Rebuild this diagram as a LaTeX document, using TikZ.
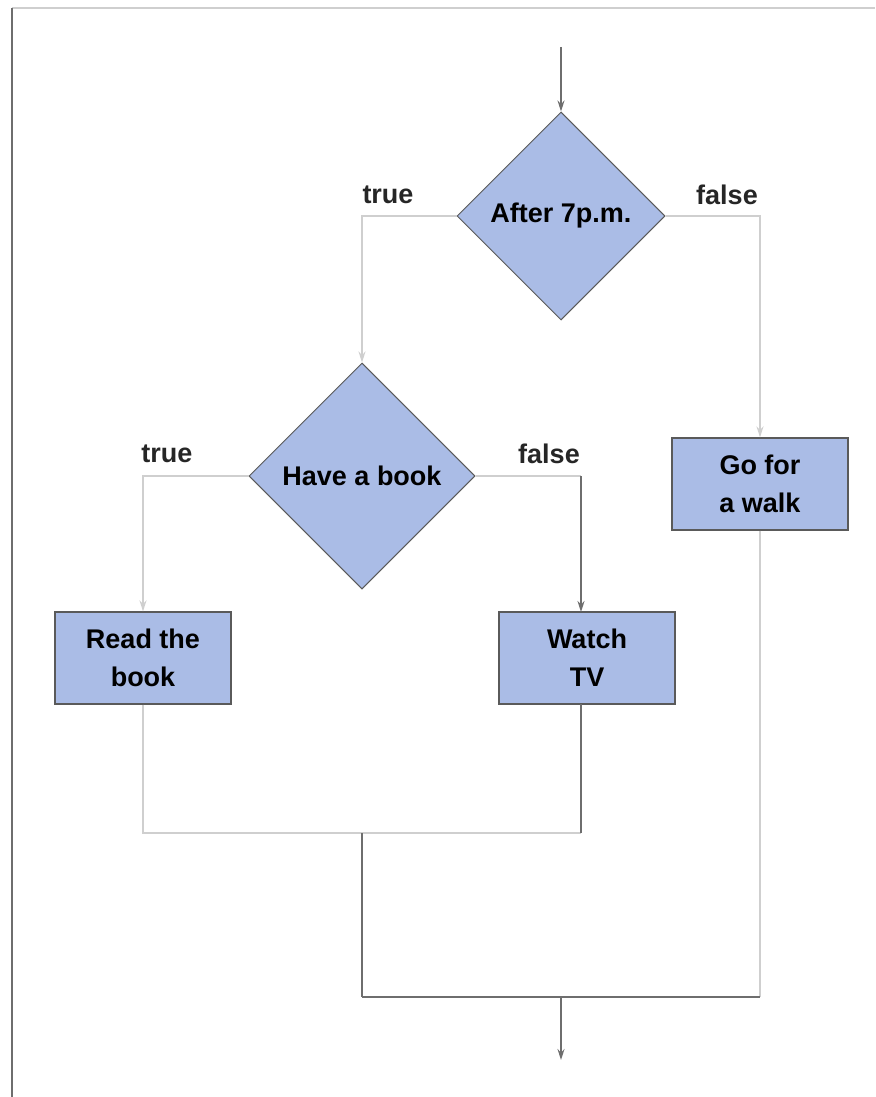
\documentclass[tikz,border=0pt]{standalone}
\usepackage{fontspec}
\setmainfont{Liberation Sans}
\usetikzlibrary{shapes.geometric,arrows.meta}
\definecolor{boxfill}{HTML}{AABCE6}
\definecolor{edgedark}{HTML}{5A5A5A}
\definecolor{linelight}{HTML}{CFCFCF}
\definecolor{linedark}{HTML}{6E6E6E}
\tikzset{
  decision/.style={diamond, draw=edgedark, line width=1pt, fill=boxfill, inner sep=0pt,
    minimum width=208pt, minimum height=208pt, font=\fontsize{27}{36}\selectfont\bfseries},
  action/.style={rectangle, draw=edgedark, line width=1.2pt, fill=boxfill, inner sep=0pt,
    minimum width=176pt, minimum height=92pt, align=center, font=\fontsize{27}{38}\selectfont\bfseries},
  lbl/.style={font=\fontsize{27}{32}\selectfont\bfseries, inner sep=0pt, text=black!85},
  light/.style={draw=linelight, line width=1.6pt},
  dark/.style={draw=linedark, line width=2.6pt},
  tip/.style={-{Stealth[length=11pt,width=7pt]}},
  frameline/.style={line width=2.4pt, draw=linedark}
}
\begin{document}
\begin{tikzpicture}[x=1pt,y=-1pt]
\useasboundingbox (0,0) rectangle (875,1097);
% frame
\coordinate (fTL) at (12,8);
\coordinate (fTR) at (875,8);
\coordinate (fBL) at (12,1097);
\draw[draw=linelight, line width=2pt] (fTL) -- (fTR);
\draw[frameline] (fTL) -- (fBL);

% nodes
\node[decision] (d1) at (561,216) {After 7p.m.};
\node[decision, minimum width=226pt, minimum height=226pt] (d2) at (362,476) {Have a book};
\node[action] (walk) at (760,484) {Go for\\a walk};
\node[action] (read) at (143,658) {Read the\\book};
\node[action] (tv) at (587,658) {Watch\\TV};

% labels
\node[lbl] (t1) at (388,195) {true};
\node[lbl] (f1) at (727,195) {false};
\node[lbl] (t2) at (167,454) {true};
\node[lbl] (f2) at (549,454) {false};

% coordinates
\coordinate (start) at (561,47);
\coordinate (m1) at (362,833);
\coordinate (m2) at (362,997);
\coordinate (m3) at (561,997);
\coordinate (stop) at (561,1060);
\coordinate (tvline) at (581,704);
\coordinate (tvtop) at (581,612);

% connectors
\draw[draw=linedark, line width=1.4pt, tip] (start) -- (d1.north);
\draw[light, tip] (d1.west) -| (d2.north);
\draw[light, tip] (d1.east) -| (walk.north);
\draw[light, tip] (d2.west) -| (read.north);
\draw[light] (d2.east) -- (d2.east -| tvtop);
\draw[dark, tip] (d2.east -| tvtop) -- (tvtop);
\draw[light] (read.south) |- (m1) -- (m1 -| tvline);
\draw[dark] (m1 -| tvline) -- (tvline);
\draw[draw=linedark, line width=1.8pt] (m1) -- (m2);
\draw[light] (walk.south) -- (walk.south |- m2);
\draw[dark] (m2) -- (walk.south |- m2);
\draw[draw=linedark, line width=1.4pt, tip] (m3) -- (stop);
\end{tikzpicture}
\end{document}
